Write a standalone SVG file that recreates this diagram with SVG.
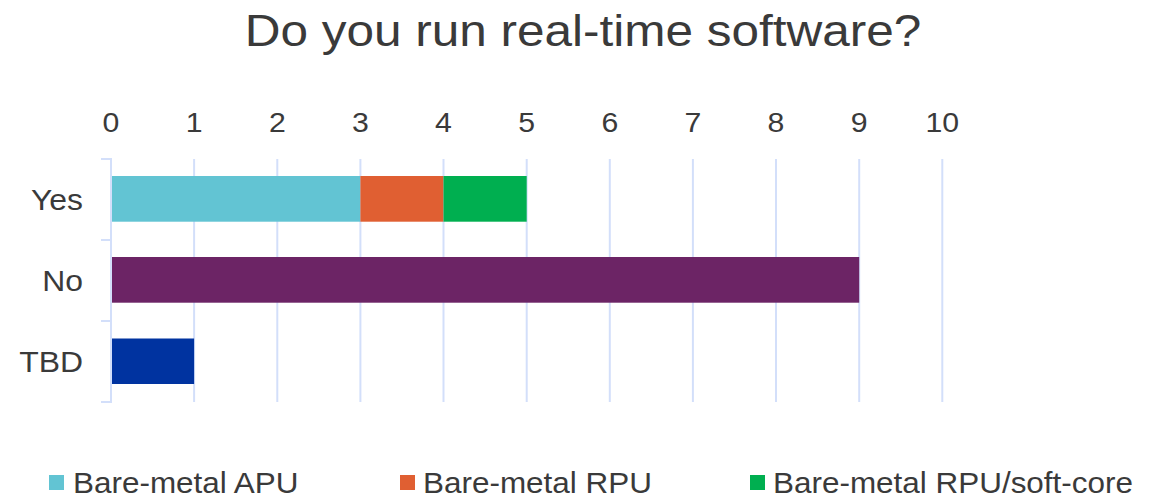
<svg xmlns="http://www.w3.org/2000/svg" width="1162" height="499" viewBox="0 0 1162 499">
  <style>
    text { font-family: "Liberation Sans", Arial, sans-serif; fill: #3a3a3a; }
    .title { font-size: 45px; }
    .tick { font-size: 27.5px; text-anchor: middle; }
    .cat { font-size: 29px; text-anchor: end; }
    .leg { font-size: 28.6px; }
    .grid { stroke: #d3dffa; stroke-width: 2; fill: none; }
    .apu { fill: #62c4d3; }
    .rpu { fill: #e05f32; }
    .soft { fill: #00af50; }
    .no { fill: #6c2465; }
    .tbd { fill: #0033a0; }
  </style>
  <rect width="1162" height="499" fill="#ffffff"/>

  <g id="title">
    <text class="title" text-anchor="middle" transform="translate(583,45.5) scale(1.1,1)">Do you run real-time software?</text>
  </g>

  <g id="axis-labels">
    <text class="tick" transform="translate(111,131.5) scale(1.1,1)">0</text>
    <text class="tick" transform="translate(194.1,131.5) scale(1.1,1)">1</text>
    <text class="tick" transform="translate(277.3,131.5) scale(1.1,1)">2</text>
    <text class="tick" transform="translate(360.4,131.5) scale(1.1,1)">3</text>
    <text class="tick" transform="translate(443.5,131.5) scale(1.1,1)">4</text>
    <text class="tick" transform="translate(526.7,131.5) scale(1.1,1)">5</text>
    <text class="tick" transform="translate(609.8,131.5) scale(1.1,1)">6</text>
    <text class="tick" transform="translate(692.9,131.5) scale(1.1,1)">7</text>
    <text class="tick" transform="translate(776,131.5) scale(1.1,1)">8</text>
    <text class="tick" transform="translate(859.2,131.5) scale(1.1,1)">9</text>
    <text class="tick" transform="translate(942.3,131.5) scale(1.1,1)">10</text>
  </g>

  <g id="gridlines">
    <line class="grid" x1="194.1" y1="159" x2="194.1" y2="402"/>
    <line class="grid" x1="277.3" y1="159" x2="277.3" y2="402"/>
    <line class="grid" x1="360.4" y1="159" x2="360.4" y2="402"/>
    <line class="grid" x1="443.5" y1="159" x2="443.5" y2="402"/>
    <line class="grid" x1="526.7" y1="159" x2="526.7" y2="402"/>
    <line class="grid" x1="609.8" y1="159" x2="609.8" y2="402"/>
    <line class="grid" x1="692.9" y1="159" x2="692.9" y2="402"/>
    <line class="grid" x1="776" y1="159" x2="776" y2="402"/>
    <line class="grid" x1="859.2" y1="159" x2="859.2" y2="402"/>
    <line class="grid" x1="942.3" y1="159" x2="942.3" y2="402"/>
  </g>

  <g id="axis">
    <line class="grid" x1="111" y1="158" x2="111" y2="403"/>
    <line class="grid" x1="101" y1="159" x2="111" y2="159"/>
    <line class="grid" x1="101" y1="240" x2="111" y2="240"/>
    <line class="grid" x1="101" y1="321" x2="111" y2="321"/>
    <line class="grid" x1="101" y1="402" x2="111" y2="402"/>
  </g>

  <g id="category-labels">
    <text class="cat" transform="translate(83,210) scale(1.1,1)">Yes</text>
    <text class="cat" transform="translate(83,291) scale(1.1,1)">No</text>
    <text class="cat" transform="translate(83,372) scale(1.1,1)">TBD</text>
  </g>

  <g id="bar-yes">
    <rect class="apu" x="112" y="176" width="248.4" height="45.7"/>
    <rect class="rpu" x="360.4" y="176" width="83.1" height="45.7"/>
    <rect class="soft" x="443.5" y="176" width="83.2" height="45.7"/>
  </g>
  <g id="bar-no">
    <rect class="no" x="112" y="257" width="747.2" height="45.7"/>
  </g>
  <g id="bar-tbd">
    <rect class="tbd" x="112" y="338.5" width="82.1" height="45.5"/>
  </g>

  <g id="legend">
    <rect class="apu" x="49" y="475" width="15" height="15"/>
    <text class="leg" transform="translate(73,492.5) scale(1.1,1)">Bare-metal APU</text>
    <rect class="rpu" x="400" y="475" width="15" height="15"/>
    <text class="leg" transform="translate(423,492.5) scale(1.1,1)">Bare-metal RPU</text>
    <rect class="soft" x="750" y="475" width="15" height="15"/>
    <text class="leg" transform="translate(773,492.5) scale(1.1,1)">Bare-metal RPU/soft-core</text>
  </g>
</svg>
